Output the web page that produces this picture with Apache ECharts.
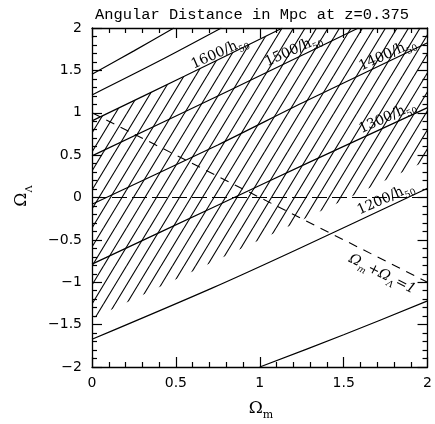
<!DOCTYPE html>
<html>
<head>
<meta charset="utf-8">
<script src="https://cdn.jsdelivr.net/npm/echarts@6/dist/echarts.min.js"></script>
<style>
  html, body { margin: 0; padding: 0; background: #fff; }
  #chart { width: 435px; height: 424px; }
</style>
</head>
<body>
<div id="chart"></div>
<script>
// contour lines of angular distance (Omega_m, Omega_Lambda)
const c1800 = [[0, 1.454], [0.25, 1.73], [0.488, 2.0]];
const c1700 = [[0, 1.21], [0.4, 1.61], [0.771, 2.0]];
const c1600 = [[0, 0.904], [0.55, 1.43], [1.135, 2.0]];
const c1500 = [[0, 0.491], [0.8, 1.245], [1.588, 2.0]];
const c1400 = [[0, -0.08], [0.75, 0.62], [1.282, 1.144], [2, 1.826]];
const c1300 = [[0, -0.786], [0.724, -0.115], [1.3, 0.42], [2, 1.06]];
const c1200 = [[0, -1.673], [0.712, -1.072], [1.235, -0.601], [2, 0.11]];
const c1100 = [[1.0, -2.0], [1.5, -1.62], [2.0, -1.22]];
const contours = [c1800, c1700, c1600, c1500, c1400, c1300, c1200, c1100];

// hatched region: between the 1600 contour and this lower edge
const hatchLower = [[0, -1.43], [0.653, -0.822], [1.088, -0.42], [1.459, -0.07], [2, 0.44]];

const flatLine = [[0, 1], [2, -1]];
const zeroLine = [[0, 0], [2, 0]];

const labelText = ['1600', '1500', '1400', '1300', '1200'];
const labelSpots = [[0.76, 1.71], [1.2, 1.74], [1.76, 1.69], [1.76, 0.95], [1.75, -0.01]];
const flatLabelSpot = [[1.73, -0.9]];

const xTicks = [0, 0.5, 1, 1.5, 2];
const yTicks = [-2, -1.5, -1, -0.5, 0, 0.5, 1, 1.5, 2];

const chart = echarts.init(document.getElementById('chart'));

function makeHatch() {
  const c = document.createElement('canvas');
  c.width = 23;
  c.height = 38;
  const ctx = c.getContext('2d');
  ctx.strokeStyle = '#000';
  ctx.lineWidth = 1.1;
  for (let x0 = -23; x0 <= 46; x0 += 11.5) {
    ctx.beginPath();
    ctx.moveTo(x0, 38);
    ctx.lineTo(x0 + 23, 0);
    ctx.stroke();
  }
  return c;
}
const hatch = makeHatch();

const fmt = v => (v < 0 ? '\u2212' : '') + Math.abs(v);
const tickFont = { fontFamily: 'DejaVu Sans', fontSize: 14, color: '#000' };

function axisBase(extra) {
  return Object.assign({
    type: 'value',
    axisLine: { show: true, onZero: false, lineStyle: { color: '#000', width: 1.3 } },
    axisTick: { show: true, inside: true, length: 10, lineStyle: { color: '#000', width: 1.2 } },
    minorTick: { show: true, splitNumber: 5, length: 5, lineStyle: { color: '#000', width: 1.2 } },
    splitLine: { show: false },
    minorSplitLine: { show: false }
  }, extra);
}

const xOpts = { min: xTicks[0], max: xTicks[xTicks.length - 1], interval: 0.5 };
const yOpts = { min: yTicks[0], max: yTicks[yTicks.length - 1], interval: 0.5 };

const series = [];

// hatched region
series.push({
  type: 'custom',
  silent: true,
  data: [0],
  renderItem: (params, api) => {
    const pts = [];
    c1600.forEach(p => pts.push(api.coord(p)));
    pts.push(api.coord([2, 2]));
    for (let i = hatchLower.length - 1; i >= 0; i--) pts.push(api.coord(hatchLower[i]));
    return {
      type: 'polygon',
      shape: { points: pts },
      style: { fill: { image: hatch, repeat: 'repeat' }, stroke: null }
    };
  }
});

contours.forEach(d => {
  series.push({
    type: 'line',
    data: d,
    symbol: 'none',
    smooth: 0.3,
    silent: true,
    lineStyle: { color: '#000', width: 1.2 }
  });
});

series.push({
  type: 'line', data: flatLine, symbol: 'none', silent: true,
  lineStyle: { color: '#000', width: 1.1, type: [9, 7] }
});
series.push({
  type: 'line', data: zeroLine, symbol: 'none', silent: true,
  lineStyle: { color: '#000', width: 1.1, type: [15, 5] }
});

const labelRich = {
  a: { fontFamily: 'DejaVu Serif', fontSize: 14, lineHeight: 15, verticalAlign: 'bottom', color: '#000' },
  s: { fontFamily: 'DejaVu Serif', fontSize: 9, lineHeight: 15, verticalAlign: 'bottom', color: '#000', padding: [0, 0, -3, 0] }
};

series.push({
  type: 'custom',
  silent: true,
  data: labelSpots,
  renderItem: (params, api) => {
    const p = api.coord([api.value(0), api.value(1)]);
    return {
      type: 'text',
      x: p[0], y: p[1],
      rotation: 24 * Math.PI / 180,
      style: {
        text: '{a|' + labelText[params.dataIndex] + '/h}{s|50}',
        rich: labelRich,
        align: 'center', verticalAlign: 'middle'
      }
    };
  }
});

series.push({
  type: 'custom',
  silent: true,
  data: flatLabelSpot,
  renderItem: (params, api) => {
    const p = api.coord([api.value(0), api.value(1)]);
    return {
      type: 'text',
      x: p[0], y: p[1],
      rotation: -26.5 * Math.PI / 180,
      style: {
        text: '{o|\u03A9}{s|m}{o|+\u03A9}{s|\u039B}{o|=1}',
        rich: {
          o: { fontFamily: 'DejaVu Serif', fontStyle: 'italic', fontSize: 14, lineHeight: 15, verticalAlign: 'bottom', color: '#000' },
          s: { fontFamily: 'DejaVu Serif', fontStyle: 'italic', fontSize: 9, lineHeight: 15, verticalAlign: 'bottom', color: '#000', padding: [0, 1, -3, 0] }
        },
        align: 'center', verticalAlign: 'middle'
      }
    };
  }
});

chart.setOption({
  animation: false,
  backgroundColor: '#fff',
  title: {
    text: 'Angular Distance in Mpc at z=0.375',
    left: 90, top: 2,
    textStyle: { fontFamily: 'Liberation Mono', fontSize: 15.4, fontWeight: 'normal', color: '#000' }
  },
  grid: { left: 92, right: 4, top: 28, bottom: 57 },
  xAxis: [
    axisBase(Object.assign({ position: 'bottom', axisLabel: Object.assign({ margin: 9, formatter: fmt }, tickFont) }, xOpts)),
    axisBase(Object.assign({ position: 'top', axisLabel: { show: false } }, xOpts))
  ],
  yAxis: [
    axisBase(Object.assign({ position: 'left', axisLabel: Object.assign({ margin: 10, formatter: fmt }, tickFont) }, yOpts)),
    axisBase(Object.assign({ position: 'right', axisLabel: { show: false } }, yOpts))
  ],
  graphic: [
    {
      type: 'text', x: 261, y: 408,
      style: {
        text: '{o|\u03A9}{s|m}',
        rich: {
          o: { fontFamily: 'DejaVu Serif', fontSize: 17, lineHeight: 18, verticalAlign: 'bottom', color: '#000' },
          s: { fontFamily: 'DejaVu Serif', fontSize: 11, lineHeight: 18, verticalAlign: 'bottom', color: '#000', padding: [0, 0, -4, 0] }
        },
        align: 'center', verticalAlign: 'middle'
      }
    },
    {
      type: 'text', x: 21, y: 196, rotation: Math.PI / 2,
      style: {
        text: '{o|\u03A9}{s|\u039B}',
        rich: {
          o: { fontFamily: 'DejaVu Serif', fontSize: 17, lineHeight: 18, verticalAlign: 'bottom', color: '#000' },
          s: { fontFamily: 'DejaVu Serif', fontSize: 10, lineHeight: 18, verticalAlign: 'bottom', color: '#000', padding: [0, 0, -4, 0] }
        },
        align: 'center', verticalAlign: 'middle'
      }
    }
  ],
  series: series
});
</script>
</body>
</html>
